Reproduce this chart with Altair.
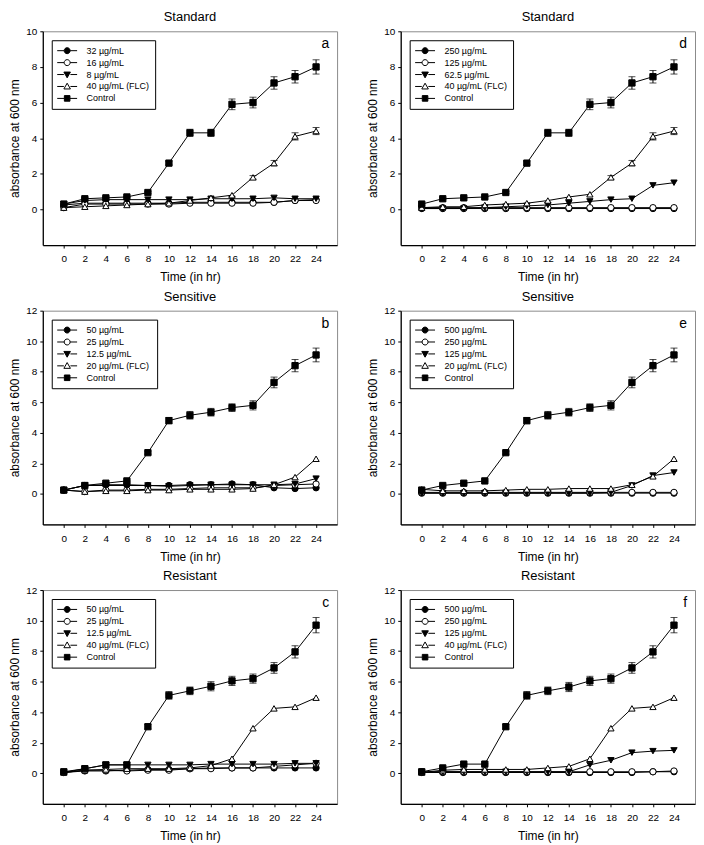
import altair as alt
import pandas as pd

times = [0, 2, 4, 6, 8, 10, 12, 14, 16, 18, 20, 22, 24]

# ---------- Panel a : Standard ----------
a_labels = ["32 µg/mL", "16 µg/mL", "8 µg/mL", "40 µg/mL (FLC)", "Control"]
a_s1 = [0.25, 0.35, 0.35, 0.35, 0.35, 0.35, 0.4, 0.4, 0.4, 0.4, 0.4, 0.5, 0.55]
a_s2 = [0.1, 0.3, 0.3, 0.3, 0.3, 0.3, 0.35, 0.35, 0.35, 0.35, 0.4, 0.5, 0.5]
a_s3 = [0.3, 0.5, 0.55, 0.55, 0.55, 0.55, 0.55, 0.6, 0.6, 0.6, 0.65, 0.6, 0.6]
a_flc = [0.1, 0.15, 0.2, 0.25, 0.3, 0.35, 0.5, 0.65, 0.8, 1.8, 2.6, 4.1, 4.4]
a_ctrl = [0.3, 0.6, 0.65, 0.7, 0.95, 2.6, 4.3, 4.3, 5.9, 6.0, 7.1, 7.45, 8.0]
a_flc_err = [0, 0, 0, 0, 0, 0, 0, 0, 0, 0.1, 0.15, 0.2, 0.2]
a_ctrl_err = [0.05, 0.05, 0.05, 0.05, 0.05, 0.1, 0.2, 0.2, 0.3, 0.3, 0.35, 0.35, 0.4]

# ---------- Panel d : Standard ----------
d_labels = ["250 µg/mL", "125 µg/mL", "62.5 µg/mL", "40 µg/mL (FLC)", "Control"]
d_s1 = [0.05, 0.05, 0.05, 0.05, 0.05, 0.05, 0.05, 0.05, 0.05, 0.05, 0.05, 0.05, 0.05]
d_s2 = [0.1, 0.1, 0.1, 0.1, 0.1, 0.1, 0.1, 0.1, 0.1, 0.1, 0.1, 0.1, 0.1]
d_s3 = [0.05, 0.05, 0.05, 0.1, 0.15, 0.2, 0.25, 0.35, 0.45, 0.55, 0.6, 1.35, 1.5]
d_flc = [0.1, 0.15, 0.15, 0.25, 0.3, 0.35, 0.5, 0.7, 0.85, 1.8, 2.6, 4.1, 4.4]
d_ctrl = [0.3, 0.6, 0.65, 0.7, 0.95, 2.6, 4.3, 4.3, 5.9, 6.0, 7.1, 7.45, 8.0]
d_flc_err = [0, 0, 0, 0, 0, 0, 0, 0, 0, 0.1, 0.15, 0.2, 0.2]
d_ctrl_err = [0.05, 0.05, 0.05, 0.05, 0.05, 0.1, 0.2, 0.2, 0.3, 0.3, 0.35, 0.35, 0.4]

# ---------- Panel b : Sensitive ----------
b_labels = ["50 µg/mL", "25  µg/mL", "12.5 µg/mL", "20  µg/mL (FLC)", "Control"]
b_s1 = [0.25, 0.55, 0.6, 0.6, 0.55, 0.55, 0.6, 0.6, 0.65, 0.6, 0.4, 0.35, 0.4]
b_s2 = [0.25, 0.15, 0.25, 0.25, 0.3, 0.3, 0.35, 0.4, 0.4, 0.4, 0.55, 0.6, 0.65]
b_s3 = [0.25, 0.55, 0.55, 0.55, 0.55, 0.5, 0.55, 0.6, 0.6, 0.6, 0.6, 0.65, 1.0]
b_flc = [0.25, 0.15, 0.2, 0.2, 0.25, 0.25, 0.3, 0.3, 0.3, 0.35, 0.6, 1.1, 2.3]
b_ctrl = [0.25, 0.55, 0.7, 0.85, 2.7, 4.8, 5.15, 5.35, 5.65, 5.8, 7.3, 8.4, 9.1]
b_flc_err = [0, 0, 0, 0, 0, 0, 0, 0, 0, 0, 0, 0, 0]
b_ctrl_err = [0.05, 0.05, 0.05, 0.05, 0.1, 0.2, 0.25, 0.25, 0.25, 0.3, 0.35, 0.4, 0.45]

# ---------- Panel e : Sensitive ----------
e_labels = ["500  µg/mL", "250 µg/mL", "125 µg/mL", "20 µg/mL (FLC)", "Control"]
e_s1 = [0.05, 0.05, 0.05, 0.05, 0.05, 0.05, 0.05, 0.05, 0.05, 0.05, 0.05, 0.05, 0.05]
e_s2 = [0.1, 0.1, 0.1, 0.1, 0.1, 0.1, 0.1, 0.1, 0.1, 0.1, 0.1, 0.1, 0.1]
e_s3 = [0.05, 0.05, 0.05, 0.05, 0.05, 0.05, 0.05, 0.05, 0.05, 0.1, 0.55, 1.2, 1.4]
e_flc = [0.3, 0.2, 0.2, 0.2, 0.25, 0.3, 0.3, 0.35, 0.35, 0.35, 0.6, 1.15, 2.3]
e_ctrl = [0.25, 0.55, 0.7, 0.85, 2.7, 4.8, 5.15, 5.35, 5.65, 5.8, 7.3, 8.4, 9.1]
e_flc_err = [0, 0, 0, 0, 0, 0, 0, 0, 0, 0, 0, 0, 0]
e_ctrl_err = [0.05, 0.05, 0.05, 0.05, 0.1, 0.2, 0.25, 0.25, 0.25, 0.3, 0.35, 0.4, 0.45]

# ---------- Panel c : Resistant ----------
c_labels = ["50 µg/mL", "25 µg/mL", "12.5 µg/mL", "40 µg/mL (FLC)", "Control"]
c_s1 = [0.05, 0.15, 0.15, 0.2, 0.25, 0.25, 0.3, 0.35, 0.35, 0.35, 0.35, 0.35, 0.35]
c_s2 = [0.05, 0.2, 0.2, 0.15, 0.2, 0.2, 0.3, 0.3, 0.35, 0.35, 0.45, 0.55, 0.65]
c_s3 = [0.05, 0.3, 0.55, 0.55, 0.55, 0.55, 0.55, 0.6, 0.6, 0.6, 0.6, 0.65, 0.65]
c_flc = [0.05, 0.2, 0.25, 0.3, 0.3, 0.3, 0.35, 0.5, 0.95, 2.95, 4.25, 4.35, 4.95]
c_ctrl = [0.1, 0.3, 0.55, 0.55, 3.05, 5.1, 5.4, 5.7, 6.05, 6.2, 6.9, 7.95, 9.7]
c_flc_err = [0, 0, 0, 0, 0, 0, 0, 0, 0, 0, 0, 0, 0]
c_ctrl_err = [0.05, 0.05, 0.05, 0.05, 0.15, 0.25, 0.25, 0.3, 0.3, 0.3, 0.35, 0.4, 0.5]

# ---------- Panel f : Resistant ----------
f_labels = ["500 µg/mL", "250 µg/mL", "125 µg/mL", "40 µg/mL (FLC)", "Control"]
f_s1 = [0.05, 0.05, 0.05, 0.05, 0.05, 0.05, 0.05, 0.05, 0.05, 0.05, 0.05, 0.1, 0.1]
f_s2 = [0.1, 0.1, 0.1, 0.1, 0.1, 0.1, 0.1, 0.1, 0.1, 0.1, 0.1, 0.1, 0.15]
f_s3 = [0.05, 0.1, 0.1, 0.1, 0.1, 0.1, 0.1, 0.1, 0.55, 0.85, 1.35, 1.45, 1.5]
f_flc = [0.05, 0.2, 0.25, 0.25, 0.25, 0.25, 0.35, 0.45, 0.95, 2.95, 4.25, 4.35, 4.95]
f_ctrl = [0.1, 0.35, 0.6, 0.6, 3.05, 5.1, 5.4, 5.65, 6.05, 6.2, 6.9, 7.95, 9.7]
f_flc_err = [0, 0, 0, 0, 0, 0, 0, 0, 0, 0, 0, 0, 0]
f_ctrl_err = [0.05, 0.05, 0.05, 0.05, 0.15, 0.25, 0.25, 0.3, 0.3, 0.3, 0.35, 0.4, 0.5]

# ---------- styling ----------
W, H = 296, 215
FONT = "Liberation Sans"
point_shapes = ["circle", "circle", "triangle-down", "triangle-up", "square"]
point_fills = ["black", "white", "black", "white", "black"]
# legend glyphs: a short line with the marker in the middle (units of 5 px)
legend_shapes = [
    "M-2,0H-0.6M0.6,0H2M0.6,0A0.6,0.6,0,1,1,-0.6,0A0.6,0.6,0,1,1,0.6,0Z",
    "M-2,0H-0.6M0.6,0H2M0.6,0A0.6,0.6,0,1,1,-0.6,0A0.6,0.6,0,1,1,0.6,0Z",
    "M-2,0H-0.66M0.66,0H2M-0.66,-0.5L0.66,-0.5L0,0.66Z",
    "M-2,0H-0.66M0.66,0H2M-0.66,0.5L0.66,0.5L0,-0.66Z",
    "M-2,0H-0.56M0.56,0H2M-0.56,-0.56H0.56V0.56H-0.56Z",
]


def panel(title, letter, labels, series, flc_err, ctrl_err, ymax):
    rows = []
    for i, (lab, vals) in enumerate(zip(labels, series)):
        for t, v in zip(times, vals):
            rows.append({"t": t, "v": v, "s": lab,
                         "pshape": point_shapes[i], "pfill": point_fills[i]})
    df = pd.DataFrame(rows)
    erows = []
    for vals, errs in ((series[3], flc_err), (series[4], ctrl_err)):
        for t, v, e in zip(times, vals, errs):
            if e > 0:
                erows.append({"t": t, "lo": v - e, "hi": v + e})
    edf = pd.DataFrame(erows)

    ytitle = "absorbance at 600 nm"
    xenc = alt.X("t:Q", scale=alt.Scale(domain=[-2, 26], nice=False, zero=False),
                 axis=alt.Axis(values=times, title="Time (in hr)"))
    yscale = alt.Scale(domain=[-2, ymax], nice=False, zero=False)
    yaxis = alt.Axis(values=list(range(0, ymax + 1, 2)), title=ytitle)

    lines = alt.Chart(df).mark_line(color="black", strokeWidth=1).encode(
        x=xenc, y=alt.Y("v:Q", scale=yscale, axis=yaxis, title=ytitle), detail="s:N")
    errs = alt.Chart(edf).mark_errorbar(ticks={"size": 7, "color": "black"},
                                        rule={"color": "black", "strokeWidth": 1}).encode(
        x=xenc, y=alt.Y("lo:Q", scale=yscale, axis=yaxis, title=ytitle), y2="hi:Q")
    points = alt.Chart(df).mark_point(filled=True, size=40, stroke="black", strokeWidth=1,
                                      opacity=1).encode(
        x=xenc, y=alt.Y("v:Q", scale=yscale, axis=yaxis, title=ytitle),
        shape=alt.Shape("pshape:N", scale=None),
        fill=alt.Fill("pfill:N", scale=None))
    leg = alt.Legend(title=None, orient="top-left", offset=9, symbolSize=100,
                     strokeColor="black", fillColor="white", padding=5,
                     labelFontSize=9, labelFont=FONT, labelColor="black", rowPadding=1,
                     symbolStrokeColor="black", symbolStrokeWidth=1, symbolOpacity=1,
                     labelLimit=200, symbolOffset=5, labelOffset=14)
    legend_layer = alt.Chart(df).mark_point(filled=True, size=100, opacity=0,
                                            stroke="black", strokeWidth=1).encode(
        x=xenc, y=alt.Y("v:Q", scale=yscale, axis=yaxis, title=ytitle),
        shape=alt.Shape("s:N", scale=alt.Scale(domain=labels, range=legend_shapes), legend=leg),
        fill=alt.Fill("s:N", scale=alt.Scale(domain=labels, range=point_fills), legend=leg))
    tag = alt.Chart(pd.DataFrame({"tag": [letter]})).mark_text(
        fontSize=14, font=FONT, align="right", baseline="top", color="black").encode(
        text="tag:N", x=alt.value(W - 8), y=alt.value(6))

    return alt.layer(lines, errs, points, legend_layer, tag).properties(
        width=W, height=H, title=title)


pa = panel("Standard", "a", a_labels, [a_s1, a_s2, a_s3, a_flc, a_ctrl], a_flc_err, a_ctrl_err, 10)
pd_ = panel("Standard", "d", d_labels, [d_s1, d_s2, d_s3, d_flc, d_ctrl], d_flc_err, d_ctrl_err, 10)
pb = panel("Sensitive", "b", b_labels, [b_s1, b_s2, b_s3, b_flc, b_ctrl], b_flc_err, b_ctrl_err, 12)
pe = panel("Sensitive", "e", e_labels, [e_s1, e_s2, e_s3, e_flc, e_ctrl], e_flc_err, e_ctrl_err, 12)
pc = panel("Resistant", "c", c_labels, [c_s1, c_s2, c_s3, c_flc, c_ctrl], c_flc_err, c_ctrl_err, 12)
pf = panel("Resistant", "f", f_labels, [f_s1, f_s2, f_s3, f_flc, f_ctrl], f_flc_err, f_ctrl_err, 12)

rows = [
    alt.hconcat(l, r, spacing=28)
    .resolve_scale(shape="independent", fill="independent", x="independent", y="independent")
    .resolve_legend(shape="independent", fill="independent")
    for l, r in ((pa, pd_), (pb, pe), (pc, pf))
]
chart = alt.vconcat(*rows, spacing=6).resolve_scale(
    shape="independent", fill="independent", x="independent", y="independent"
).resolve_legend(shape="independent", fill="independent").configure(
    padding=0, background="white"
).configure_view(stroke="#8a8a8a", strokeWidth=1).configure_axis(
    domainColor="black", domainWidth=1.2, tickColor="black", tickSize=3,
    labelFontSize=10, titleFontSize=12, titleFontWeight="normal",
    labelFont=FONT, titleFont=FONT, labelColor="black", titleColor="black",
    grid=False, labelPadding=3, titlePadding=4
).configure_axisX(labelPadding=6, titlePadding=8).configure_title(
    fontSize=13, fontWeight="normal", font=FONT, offset=2, color="black"
)

chart.save("out.html", embed_options={"renderer": "svg", "actions": False})
